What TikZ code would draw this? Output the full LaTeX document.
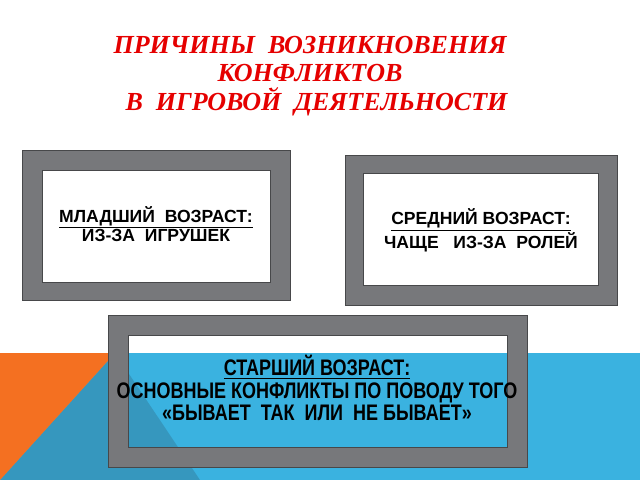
\documentclass[tikz,border=0pt]{standalone}
\usepackage{fontspec}
\setmainfont{Liberation Sans}
\newfontfamily\titlefont{Liberation Serif}
\newfontfamily\narrowfont[FakeStretch=0.8]{Liberation Sans}
\usetikzlibrary{positioning}

\definecolor{frame}{HTML}{77787B}
\definecolor{orng}{HTML}{F47021}
\definecolor{lblue}{HTML}{3AB2E0}
\definecolor{dblue}{HTML}{3697BE}

\begin{document}
\begin{tikzpicture}[x=0.025cm, y=-0.025cm]
\tikzset{
  outer/.style={fill=frame, draw=frame!60!black, very thin},
  inner/.style={draw=frame!60!black, very thin},
  head/.style={font={\titlefont\bfseries\itshape\fontsize{18.5}{20.5}\selectfont}, text=red!90!black, align=center},
  say/.style={font={\bfseries\fontsize{12.5}{14}\selectfont}, align=center},
  sayn/.style={font={\narrowfont\bfseries\fontsize{16}{15.8}\selectfont}, align=center}
}
\useasboundingbox (0,0) rectangle (640,480);
% -------------------------------------------------
% background band
\fill[lblue] (0,353) rectangle (640,480);
\fill[dblue] (0,480) -- (115,353) -- (200,480) -- cycle;
\fill[orng] (0,353) -- (115,353) -- (0,480) -- cycle;
% -------------------------------------------------
% title
\node[head] (title) at (310,76) {ПРИЧИНЫ\ \ ВОЗНИКНОВЕНИЯ\\КОНФЛИКТОВ\\\ \ В\ \ ИГРОВОЙ\ \ ДЕЯТЕЛЬНОСТИ};
% -------------------------------------------------
% frames
\fill[outer] (22,150) rectangle (290,300);
\fill[white, inner] (42,170) rectangle (270,282);
\fill[outer] (345,155) rectangle (617,305);
\fill[white, inner] (363,173) rectangle (598,285);
\fill[outer, even odd rule] (108,315) rectangle (527,467) (128,335) rectangle (507,447);
\draw[inner] (128,335) rectangle (507,447);
% -------------------------------------------------
% texts
\node[say] (young) at (156,224) {\underline{МЛАДШИЙ\ \ ВОЗРАСТ:}\\ИЗ-ЗА\ \ ИГРУШЕК};
\node[say] (mid) at (481,230) {\underline{СРЕДНИЙ ВОЗРАСТ:}\\ЧАЩЕ\ \ \ ИЗ-ЗА\ \ РОЛЕЙ};
\node[sayn] (old) at (317,388) {\underline{СТАРШИЙ ВОЗРАСТ:}\\ОСНОВНЫЕ КОНФЛИКТЫ ПО ПОВОДУ ТОГО\\«БЫВАЕТ\ \ ТАК\ \ ИЛИ\ \ НЕ БЫВАЕТ»};
\end{tikzpicture}
\end{document}
